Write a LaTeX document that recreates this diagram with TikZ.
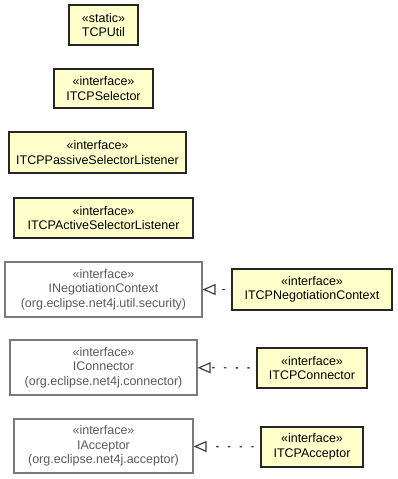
\documentclass[tikz,border=0pt]{standalone}
\usepackage{fontspec}
\setmainfont{Liberation Sans}
\usepackage{tikz}
\usetikzlibrary{arrows.meta}
\definecolor{classfill}{HTML}{FFFFCC}
\definecolor{extline}{HTML}{7A7A7A}
\definecolor{exttext}{HTML}{5A5A5A}
\tikzset{
    every node/.style={rectangle, align=center, inner sep=0pt,
    	font=\fontsize{12.5}{14.5}\selectfont}
}
\tikzset{
    own/.style={draw=black!85, line width=1.3pt, fill=classfill},
    ext/.style={draw=extline, line width=1.1pt, fill=white, text=exttext}
}
\tikzset{
	every edge/.append style={line width=1.4pt, draw=black!75,
	dash pattern=on 2.4pt off 9.3pt, dash phase=5pt,
	-{Triangle[open, length=13pt, width=11pt, line width=1.2pt]}}
}

\begin{document}
\begin{tikzpicture}[x=1pt,y=-1pt]
  \useasboundingbox (0,0) rectangle (397,479);

  \node (util) [own, minimum width=69pt, minimum height=40pt] at (103.5,25) {«static»\\TCPUtil};
  \node (sel) [own, minimum width=99pt, minimum height=39pt] at (103.5,88.5) {«interface»\\ITCPSelector};
  \node (passive) [own, minimum width=177pt, minimum height=41pt] at (97.5,152.5) {«interface»\\ITCPPassiveSelectorListener};
  \node (active) [own, minimum width=179pt, minimum height=40pt] at (103.5,218) {«interface»\\ITCPActiveSelectorListener};

  \node (nego) [ext, minimum width=197pt, minimum height=55pt] at (103.5,289.5) {«interface»\\INegotiationContext\\(org.eclipse.net4j.util.security)};
  \node (tcpnego) [own, minimum width=160pt, minimum height=41pt] at (312,289.5) {«interface»\\ITCPNegotiationContext};

  \node (conn) [ext, minimum width=187pt, minimum height=55pt] at (103.5,367.5) {«interface»\\IConnector\\(org.eclipse.net4j.connector)};
  \node (tcpconn) [own, minimum width=110pt, minimum height=40pt] at (312,368) {«interface»\\ITCPConnector};

  \node (acc) [ext, minimum width=179pt, minimum height=54pt] at (103.5,446) {«interface»\\IAcceptor\\(org.eclipse.net4j.acceptor)};
  \node (tcpacc) [own, minimum width=102pt, minimum height=40pt] at (312,447) {«interface»\\ITCPAcceptor};

  \draw (tcpnego) edge (nego);
  \draw (tcpconn) edge (conn);
  \draw (tcpacc) edge (acc);
\end{tikzpicture}
\end{document}
